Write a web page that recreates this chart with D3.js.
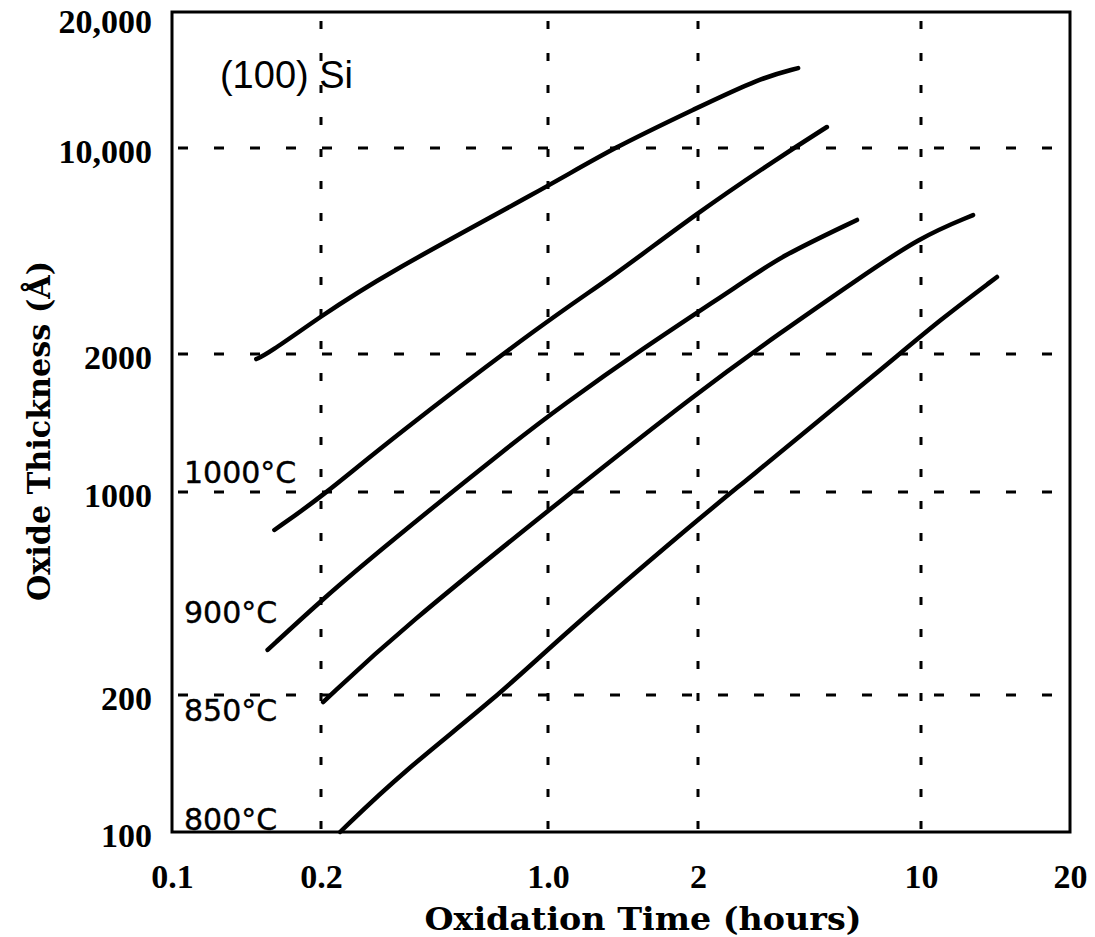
<!DOCTYPE html>
<html lang="en">
  <head>
    <meta charset="UTF-8" />
    <title>Oxide thickness vs oxidation time</title>
    <style>
      body { margin: 0; background: #fff; }
      .curve { fill: none; stroke: #000; stroke-width: 4.5px; stroke-linecap: round; }
      .grid line { stroke: #000; stroke-width: 3px; }
      .tick text { font-family: "Liberation Serif", serif; font-weight: bold; font-size: 34px; fill: #000; }
    </style>
  </head>
  <body>
    <svg></svg>
    <script src="https://cdnjs.cloudflare.com/ajax/libs/d3/7.8.5/d3.min.js"></script>
    <script>
      // axis ticks
      const timeTicks = [0.1, 0.2, 1, 2, 10, 20];
      const timeLabels = ["0.1", "0.2", "1.0", "2", "10", "20"];
      const thickTicks = [100, 200, 1000, 2000, 10000, 20000];
      const thickLabels = ["100", "200", "1000", "2000", "10,000", "20,000"];
      const gridTimes = [0.2, 1, 2, 10];
      const gridThick = [200, 1000, 2000, 10000];

      // curves (hours, Angstrom)
      const t1100 = [0.148, 0.156, 0.199, 0.304, 0.993, 1.35, 1.99, 3.13, 4.12];
      const d1100 = [1950, 2000, 2670, 3650, 7370, 10000, 12260, 14290, 15030];
      const t1000 = [0.161, 0.201, 0.326, 1.01, 1.33, 1.99, 3.61, 5.07];
      const d1000 = [740, 962, 1300, 2650, 3590, 6020, 9320, 11130];
      const t900 = [0.156, 0.201, 0.304, 0.802, 1.06, 1.51, 2.85, 3.61, 6.3];
      const d900 = [286, 425, 631, 1300, 1533, 2030, 3570, 4270, 5700];
      const t850 = [0.203, 0.35, 1.107, 1.99, 3.61, 6.3, 9.93, 12.74];
      const d850 = [193, 335, 992, 1644, 2356, 3570, 4990, 5920];
      const t800 = [0.229, 0.35, 0.697, 1.06, 1.99, 2.65, 8.0, 10.92, 14.24];
      const d800 = [100, 134, 198, 317, 800, 1020, 1921, 2610, 3650];

      // temperature labels and the thickness their baseline sits at
      const tempNames = ["1000°C", "900°C", "850°C", "800°C"];
      const tempAt = [1036, 348, 174, 100];

      const width = 1095, height = 937;
      const svg = d3.select("svg").attr("width", width).attr("height", height);
      svg.append("rect").attr("width", width).attr("height", height).attr("fill", "#fff");

      // the printed axes are not evenly spaced, so each decade piece gets its own span
      const x = d3.scaleLog().domain(timeTicks).range([172, 321, 548, 698, 921, 1070]);
      const y = d3.scaleLog().domain(thickTicks).range([832, 695, 492, 354, 148, 12]);

      // dashed grid
      const grid = svg.append("g").attr("class", "grid");
      grid.selectAll(".gv").data(gridTimes).enter().append("line")
        .attr("x1", d => x(d)).attr("x2", d => x(d))
        .attr("y1", y(20000)).attr("y2", y(100))
        .attr("stroke-dasharray", "8,24").attr("stroke-dashoffset", 23);
      grid.selectAll(".gh").data(gridThick).enter().append("line")
        .attr("x1", x(0.1)).attr("x2", x(20))
        .attr("y1", d => y(d)).attr("y2", d => y(d))
        .attr("stroke-dasharray", "10,26").attr("stroke-dashoffset", 30);

      // frame
      svg.append("rect")
        .attr("x", x(0.1)).attr("y", y(20000))
        .attr("width", x(20) - x(0.1)).attr("height", y(100) - y(20000))
        .attr("fill", "none").attr("stroke", "#000").attr("stroke-width", 3);

      // axes
      const xAxis = d3.axisBottom(x).tickValues(timeTicks).tickSize(0).tickPadding(32)
        .tickFormat((d, i) => timeLabels[i]);
      svg.append("g").attr("transform", "translate(0," + y(100) + ")").call(xAxis)
        .call(g => g.select(".domain").remove());

      const yAxis = d3.axisLeft(y).tickValues(thickTicks).tickSize(0).tickPadding(20)
        .tickFormat((d, i) => thickLabels[i]);
      svg.append("g").attr("transform", "translate(" + x(0.1) + ",0)").call(yAxis)
        .call(g => g.select(".domain").remove())
        .selectAll("text").attr("dy", d => d === 20000 ? "0.6em" : "0.42em");

      // curves
      const line = d3.line().x(d => x(d[0])).y(d => y(d[1])).curve(d3.curveBasis);
      const series = [[t1100, d1100], [t1000, d1000], [t900, d900], [t850, d850], [t800, d800]];
      svg.selectAll(".curve").data(series).enter().append("path")
        .attr("class", "curve")
        .attr("d", s => line(s[0].map((t, i) => [t, s[1][i]])));

      // temperature labels
      svg.selectAll(".temp").data(tempNames).enter().append("text")
        .attr("class", "temp")
        .attr("x", x(0.1) + 12)
        .attr("y", (d, i) => y(tempAt[i]) - 2)
        .attr("font-family", "DejaVu Sans, sans-serif")
        .attr("font-size", 30)
        .attr("stroke", "#000").attr("stroke-width", 0.4)
        .text(d => d);

      svg.append("text")
        .attr("x", x(0.125)).attr("y", y(13580))
        .attr("font-family", "Liberation Sans, Arial, sans-serif")
        .attr("font-size", 38)
        .text("(100) Si");

      // axis titles
      svg.append("text")
        .attr("x", 643).attr("y", 930)
        .attr("text-anchor", "middle")
        .attr("font-family", "DejaVu Serif, serif").attr("font-weight", "bold")
        .attr("font-size", 32)
        .attr("textLength", 437).attr("lengthAdjust", "spacingAndGlyphs")
        .text("Oxidation Time (hours)");

      svg.append("text")
        .attr("transform", "translate(50,431) rotate(-90)")
        .attr("text-anchor", "middle")
        .attr("font-family", "DejaVu Serif, serif").attr("font-weight", "bold")
        .attr("font-size", 32)
        .attr("textLength", 340).attr("lengthAdjust", "spacingAndGlyphs")
        .text("Oxide Thickness (Å)");
    </script>
  </body>
</html>
